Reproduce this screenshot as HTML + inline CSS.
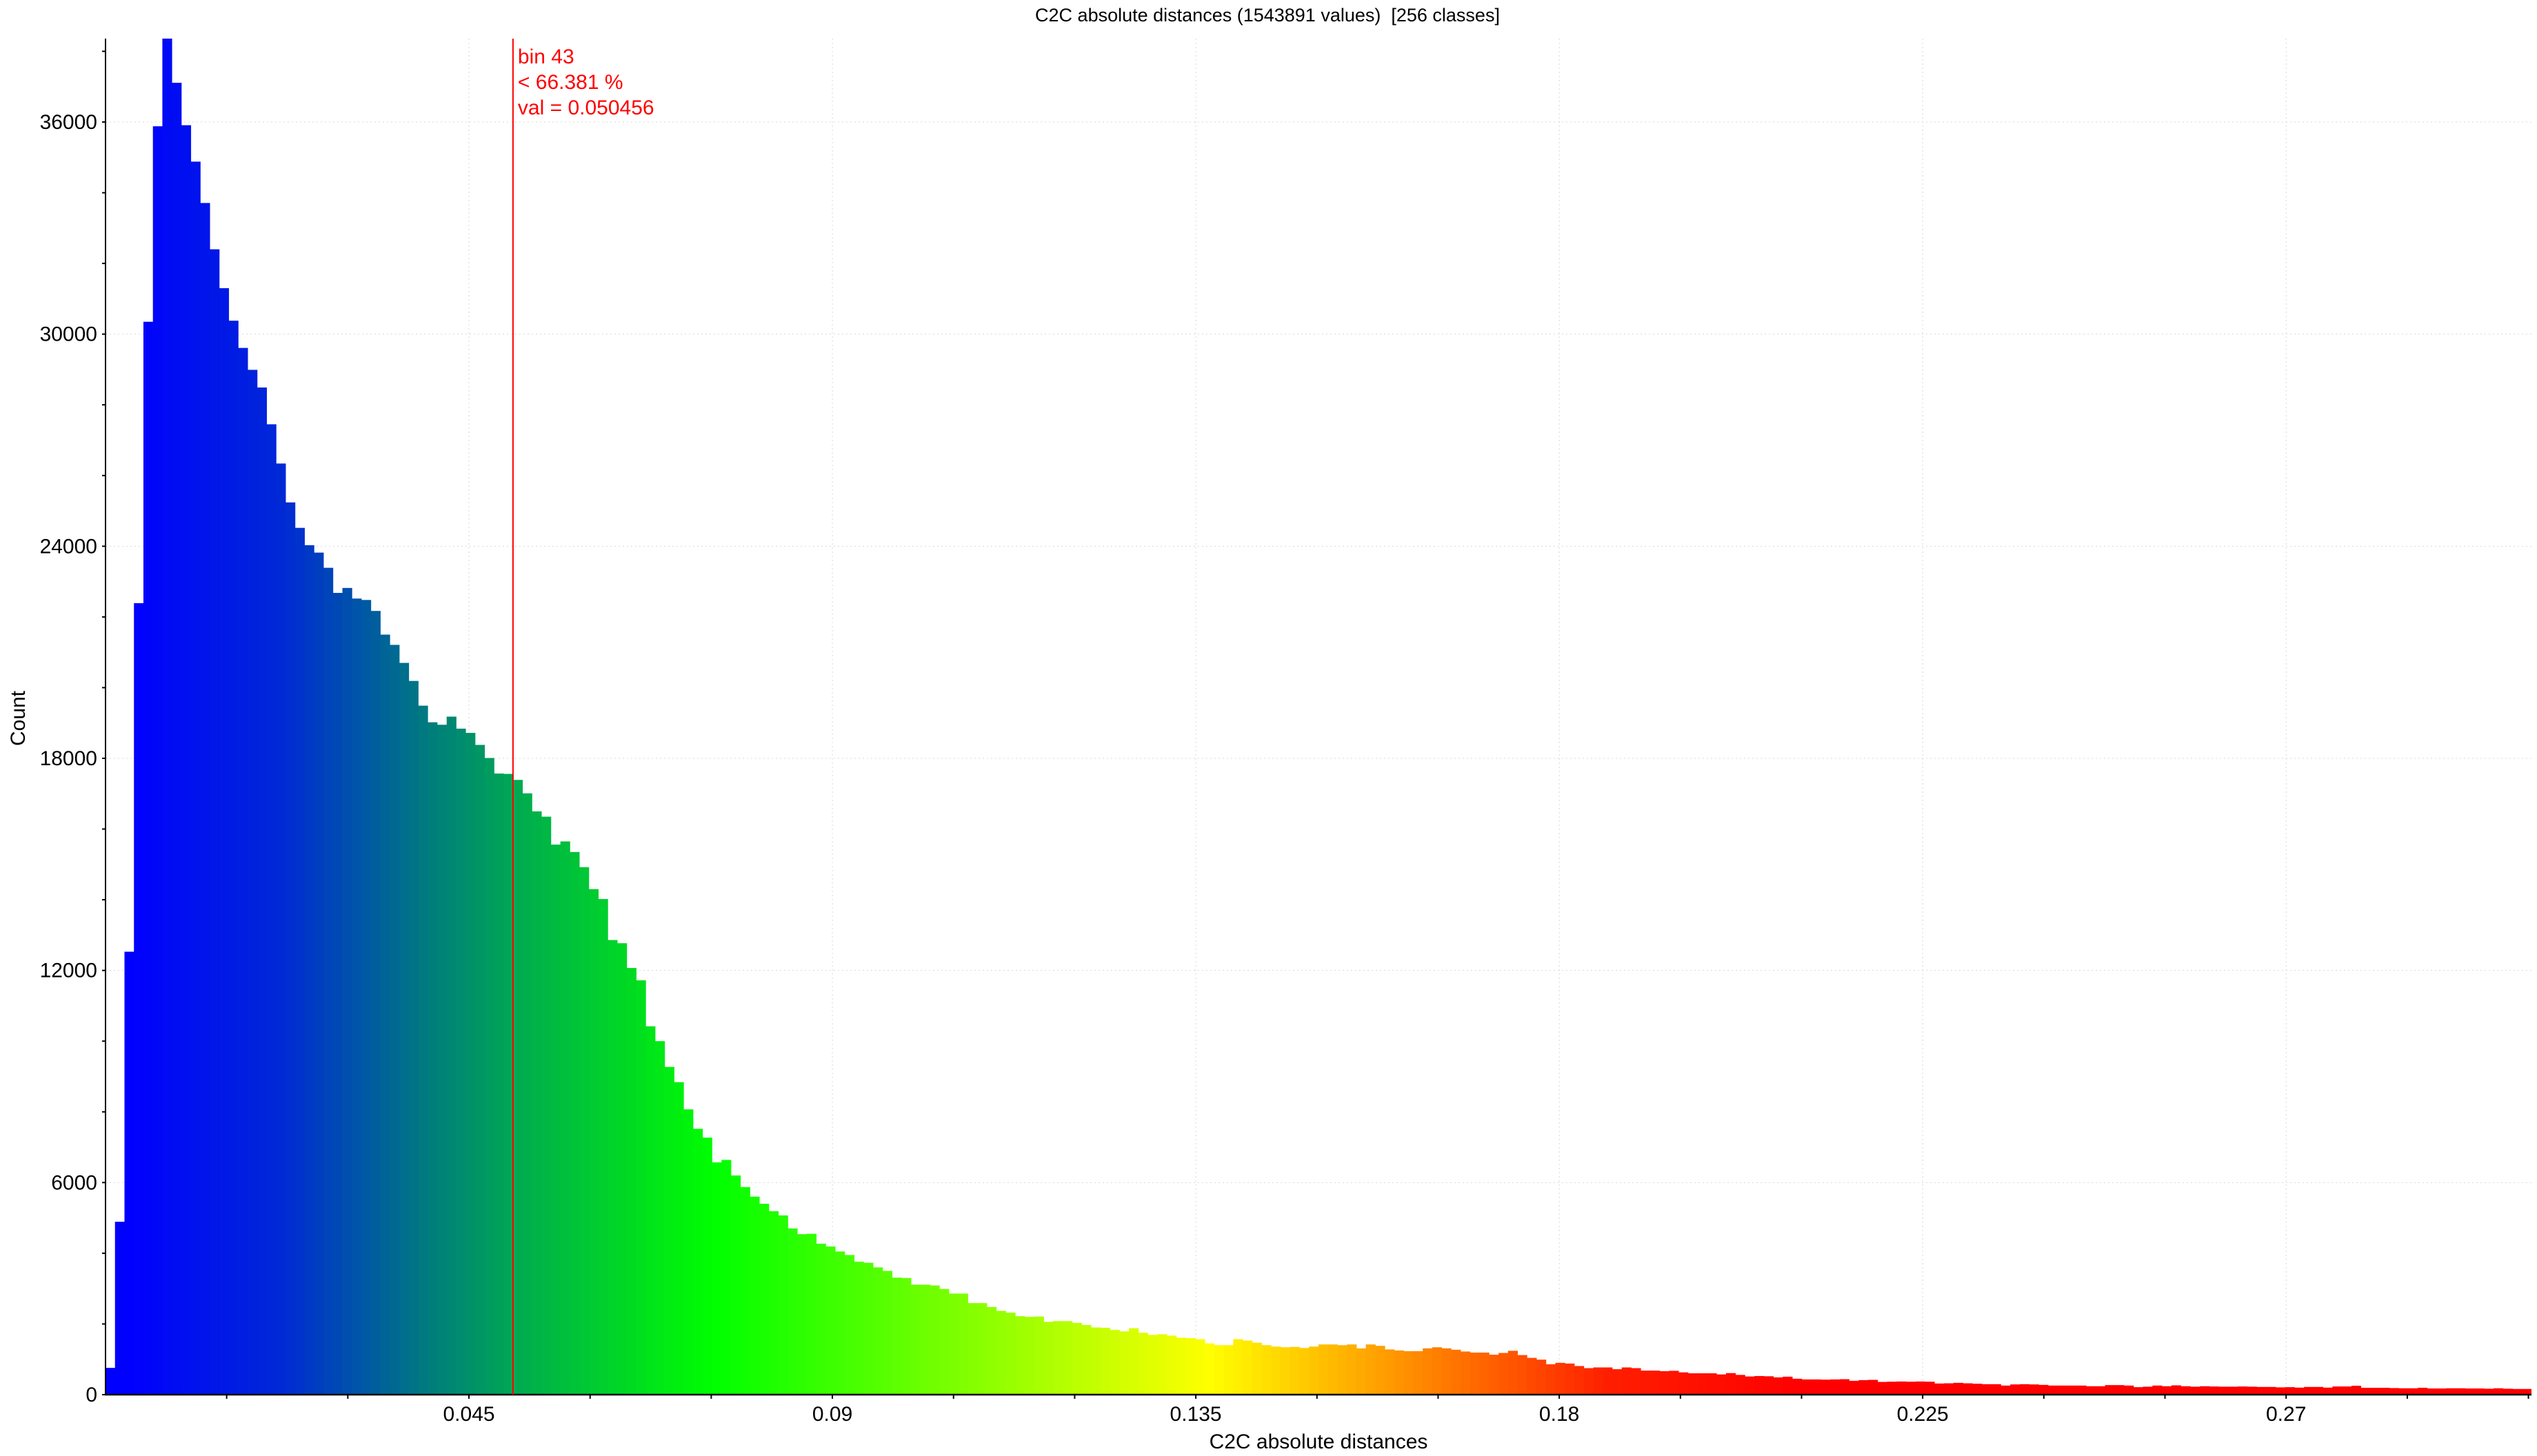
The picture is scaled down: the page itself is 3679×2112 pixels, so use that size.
<!DOCTYPE html>
<html><head><meta charset="utf-8"><style>
html,body{margin:0;padding:0;background:#fff;}
svg{display:block;font-family:"Liberation Sans",sans-serif;}
</style></head><body>
<svg id="chart" width="3679" height="2112" viewBox="0 0 3679 2112">
<defs><clipPath id="plotclip"><rect x="153" y="56" width="3518" height="1967"/></clipPath></defs>
<text x="1838" y="31" font-size="27" text-anchor="middle" fill="#000">C2C absolute distances (1543891 values)&#160; [256 classes]</text>
<g id="grid"></g>
<g id="bars" clip-path="url(#plotclip)"></g>
<g id="axes"></g>
<g id="marker"></g>
</svg>
<script>
const counts = [757,4890,12530,22390,30350,35880,38400,37110,35910,34880,
33710,32400,31300,30380,29610,28990,28490,27450,26340,25240,
24520,24030,23820,23390,22680,22820,22520,22480,22170,21500,
21210,20700,20190,19490,19020,18950,19180,18840,18720,18380,
18010,17570,17560,17390,17010,16500,16350,15560,15650,15350,
14920,14300,14020,12860,12770,12070,11720,10420,10000,9270,
8840,8070,7520,7270,6570,6640,6200,5870,5600,5400,
5190,5070,4700,4540,4550,4270,4190,4050,3950,3760,
3730,3600,3500,3310,3300,3110,3110,3090,2990,2860,
2860,2590,2590,2480,2370,2320,2220,2200,2210,2060,
2080,2080,2030,1970,1900,1890,1830,1790,1880,1750,
1690,1710,1670,1610,1600,1570,1450,1400,1400,1570,
1530,1470,1400,1360,1340,1350,1320,1360,1420,1420,
1400,1420,1310,1420,1380,1280,1250,1230,1230,1310,
1340,1310,1270,1220,1190,1190,1130,1180,1240,1120,
1040,990,860,900,880,810,750,770,770,720,
770,750,680,680,665,675,630,604,604,604,
572,610,559,514,527,520,488,508,450,430,
430,424,430,437,392,411,418,360,366,372,
366,372,366,315,321,334,321,308,296,296,
257,289,296,289,276,257,257,257,257,238,
238,270,270,257,212,225,257,238,263,238,
225,238,231,225,225,231,225,218,218,206,
212,199,218,218,199,231,231,250,193,193,
193,186,180,180,193,174,174,180,180,174,
174,167,180,167,161,161];
const xRange = [0, 0.30038];
const yRange = [0, 38360];
const yTicks = [0,6000,12000,18000,24000,30000,36000];
const xTicks = [0.045,0.09,0.135,0.18,0.225,0.27];
const xTickLabels = ["0.045","0.09","0.135","0.18","0.225","0.27"];
const markerBin = 43;
const markerLines = ["bin 43","< 66.381 %","val = 0.050456"];

const L=153,R=3671,T=56,B=2023;
const NS="http://www.w3.org/2000/svg";
function sx(v){return L+(v-xRange[0])/(xRange[1]-xRange[0])*(R-L);}
function sy(v){return B-(v-yRange[0])/(yRange[1]-yRange[0])*(B-T);}
function mk(tag,attrs,parent){const e=document.createElementNS(NS,tag);for(const k in attrs)e.setAttribute(k,attrs[k]);parent.appendChild(e);return e;}
function colorAt(t){
  const stops=[[0,[0,0,255]],[0.008,[0,0,255]],[0.07,[0,40,215]],[0.125,[0,115,135]],[0.17,[0,172,78]],[0.25,[0,255,0]],[0.455,[255,255,0]],[0.62,[255,30,0]],[0.7,[255,0,0]],[1,[255,0,0]]];
  for(let i=1;i<stops.length;i++){if(t<=stops[i][0]){const a=stops[i-1],b=stops[i];const f=(t-a[0])/(b[0]-a[0]||1);
    return 'rgb('+a[1].map((c,j)=>Math.round(c+(b[1][j]-c)*f)).join(',')+')';}}
  return 'rgb(255,0,0)';
}
const grid=document.getElementById('grid'),bars=document.getElementById('bars'),axes=document.getElementById('axes'),marker=document.getElementById('marker');
yTicks.forEach(v=>{if(v===0)return;
  const g=mk('line',{x1:L,x2:R,y1:sy(v),y2:sy(v),stroke:'#d8d8d8','stroke-width':1,'stroke-dasharray':'2,4'},grid);
  
  });
xTicks.forEach(v=>{
  const g=mk('line',{x1:sx(v),x2:sx(v),y1:T,y2:B,stroke:'#d8d8d8','stroke-width':1,'stroke-dasharray':'2,4'},grid);
  
  });
const bw=(xRange[1]-xRange[0])/counts.length;
counts.forEach((c,i)=>{
  const x0=sx(xRange[0]+i*bw),x1=sx(xRange[0]+(i+1)*bw);
  const r=mk('rect',{x:x0,y:sy(c),width:x1-x0+0.4,height:B-sy(c),fill:colorAt(i/(counts.length-1))},bars);
  
  
});
let a=mk('line',{x1:L,x2:L,y1:T,y2:B+1,stroke:'#000','stroke-width':2},axes);


a=mk('line',{x1:L-1,x2:R,y1:B,y2:B,stroke:'#000','stroke-width':2.5},axes);


for(let v=0;v<=yRange[1];v+=2000){mk('line',{x1:L-5,x2:L,y1:sy(v),y2:sy(v),stroke:'#000','stroke-width':2},axes);}
for(let v=0.015;v<=xRange[1];v+=0.015){mk('line',{x1:sx(v),x2:sx(v),y1:B,y2:B+6,stroke:'#000','stroke-width':2},axes);}
yTicks.forEach(v=>{
  const t=mk('text',{x:L-12,y:sy(v)+10,'font-size':30,'text-anchor':'end',fill:'#000'},axes);
  t.textContent=String(v);
  
  });
xTicks.forEach((v,i)=>{
  const t=mk('text',{x:sx(v),y:B+38,'font-size':30,'text-anchor':'middle',fill:'#000'},axes);
  t.textContent=xTickLabels[i];
  
  });
let t=mk('text',{x:1912,y:2101,'font-size':30,'text-anchor':'middle',fill:'#000'},axes);
t.textContent='C2C absolute distances';


t=mk('text',{x:0,y:0,'font-size':30,'text-anchor':'middle',fill:'#000',transform:'translate(36,1042) rotate(-90)'},axes);
t.textContent='Count';


const mx=sx(xRange[0]+markerBin*bw);
let ml=mk('line',{x1:mx,x2:mx,y1:T,y2:B,stroke:'#ff0000','stroke-width':2},marker);


markerLines.forEach((s,i)=>{
  const tt=mk('text',{x:mx+7,y:92+i*37,'font-size':30,fill:'#ff0000'},marker);
  tt.textContent=s;
  
  });
</script>
</body></html>
